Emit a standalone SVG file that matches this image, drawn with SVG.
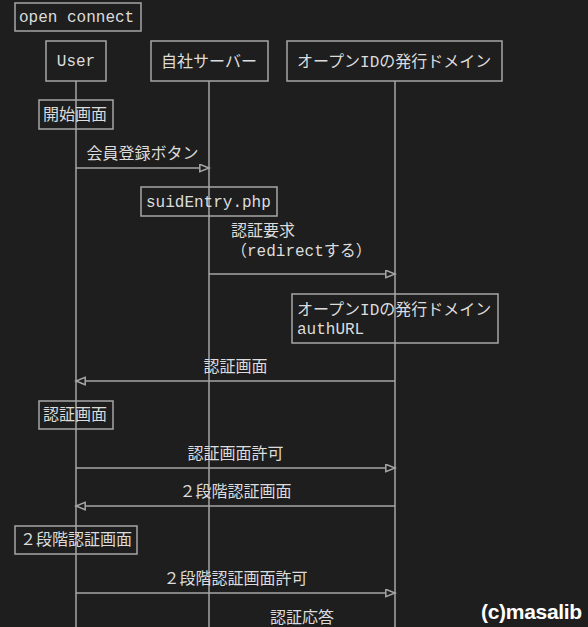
<svg xmlns="http://www.w3.org/2000/svg" width="588" height="627" viewBox="0 0 588 627">
<defs>
<style>
.box{fill:#1e1e1e;stroke:#a6a6a6;stroke-width:1.5}
.note{fill:none;stroke:#a6a6a6;stroke-width:1.5}
.life{stroke:#a6a6a6;stroke-width:1.5}
.msg{stroke:#a6a6a6;stroke-width:1.5;fill:none;marker-end:url(#arr)}
text{font-family:"Liberation Mono","Noto Sans CJK JP",monospace;font-size:16px;fill:#dcdcdc}
.c{text-anchor:middle}
.wm{font-family:"Liberation Sans",Arial,sans-serif;font-weight:bold;font-size:21px;fill:#ffffff;letter-spacing:-0.3px}
</style>
<marker id="arr" markerWidth="12" markerHeight="11" refX="10" refY="4.5" orient="auto" markerUnits="userSpaceOnUse">
<polygon points="0.8,0.8 10,4.5 0.8,8.2" fill="#1e1e1e" stroke="#a6a6a6" stroke-width="1.5"/>
</marker>
</defs>
<rect width="588" height="627" fill="#1e1e1e"/>

<g id="title">
<rect class="note" x="15" y="3" width="126" height="28"/>
<text x="19" y="21.5">open connect</text>
</g>

<g id="lifelines">
<line class="life" x1="76" y1="81" x2="76" y2="627"/>
<line class="life" x1="209" y1="81" x2="209" y2="627"/>
<line class="life" x1="395" y1="81" x2="395" y2="627"/>
</g>

<g id="p-user">
<rect class="box" x="46" y="41" width="60" height="40"/>
<text class="c" x="76" y="66">User</text>
</g>
<g id="p-server">
<rect class="box" x="151" y="41" width="117" height="40"/>
<text class="c" x="209" y="66.5">自社サーバー</text>
</g>
<g id="p-openid">
<rect class="box" x="287" y="41" width="215" height="40"/>
<text x="297" y="66.5">オープンIDの発行ドメイン</text>
</g>

<g id="note-start">
<rect class="note" x="39" y="100" width="74" height="29"/>
<text x="43" y="119.5">開始画面</text>
</g>
<g id="note-suid">
<rect class="note" x="141" y="187" width="136" height="29"/>
<text x="146" y="207">suidEntry.php</text>
</g>
<g id="note-authurl">
<rect class="note" x="292" y="294" width="206" height="49"/>
<text x="297" y="315">オープンIDの発行ドメイン</text>
<text x="297" y="334">authURL</text>
</g>
<g id="note-auth">
<rect class="note" x="39" y="401" width="74" height="28"/>
<text x="43" y="419.5">認証画面</text>
</g>
<g id="note-2fa">
<rect class="note" x="15" y="526" width="122" height="28"/>
<text x="20" y="544.5">２段階認証画面</text>
</g>

<g id="connectors">
<line class="msg" x1="76" y1="168" x2="209" y2="168"/>
<text class="c" x="142.5" y="159">会員登録ボタン</text>

<line class="msg" x1="209" y1="274" x2="395" y2="274"/>
<text x="231" y="236">認証要求</text>
<text x="231" y="256">（redirectする）</text>

<line class="msg" x1="395" y1="381" x2="76" y2="381"/>
<text class="c" x="235.5" y="371.5">認証画面</text>

<line class="msg" x1="76" y1="468" x2="395" y2="468"/>
<text class="c" x="235.5" y="459">認証画面許可</text>

<line class="msg" x1="395" y1="506" x2="76" y2="506"/>
<text class="c" x="235.5" y="497">２段階認証画面</text>

<line class="msg" x1="76" y1="593" x2="395" y2="593"/>
<text class="c" x="235.5" y="584">２段階認証画面許可</text>

<text class="c" x="302" y="623">認証応答</text>
</g>

<text class="wm" x="481" y="619">(c)masalib</text>
</svg>
